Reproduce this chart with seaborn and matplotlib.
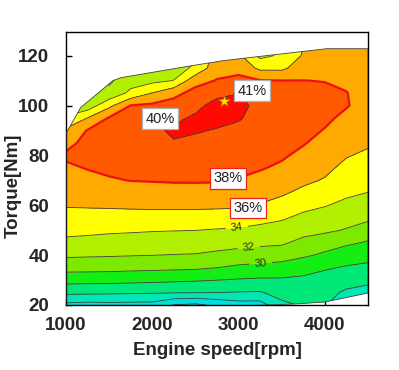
import numpy as np
import matplotlib.pyplot as plt
import seaborn as sns
from matplotlib.patches import Polygon
from matplotlib import font_manager

# grid: speed columns [rpm] x torque rows [Nm], efficiency [%]
speed = [1000, 1250, 1500, 1750, 2000, 2250, 2500, 2750, 3000, 3250, 3500, 3750, 4000, 4250, 4500]
torque = [20, 25, 30, 35, 40, 45, 50, 55, 60, 65, 70, 75, 80, 85, 90, 95, 100, 105, 110, 115, 120, 125]

# one list per speed column, torque 20 -> 125
efficiency = [
    [23.5, 26.45, 28.73, 30.73, 32.3, 33.55, 34.53, 35.37, 36.13, 36.65, 37.17, 37.69, 38.3, 37.4, 36.4, 34.2, 33.0, 32.5, 32.5, 33.0, 33.0, 33.0],
    [23.3, 26.39, 28.68, 30.69, 32.23, 33.4, 34.44, 35.35, 36.18, 36.83, 37.48, 38.09, 38.53, 38.6, 38.1, 36.05, 32.8, 32.5, 32.5, 33.0, 33.0, 33.0],
    [23.4, 26.33, 28.64, 30.65, 32.17, 33.25, 34.3, 35.3, 36.24, 37.04, 37.84, 38.34, 38.77, 39.2, 38.7, 38.16, 35.5, 32.5, 31.7, 32.5, 32.5, 32.5],
    [23.35, 26.25, 28.54, 30.55, 32.09, 33.15, 34.22, 35.3, 36.31, 37.2, 38.04, 38.45, 38.85, 39.26, 39.26, 38.65, 38.05, 34.5, 33.1, 33.1, 33.1, 33.1],
    [23.3, 26.18, 28.44, 30.46, 32.02, 33.05, 34.12, 35.29, 36.37, 37.3, 38.09, 38.48, 38.87, 39.26, 39.65, 39.26, 38.36, 36.05, 33.5, 33.1, 33.1, 33.1],
    [21.9, 26.13, 28.31, 30.39, 31.94, 33.02, 34.06, 35.27, 36.38, 37.32, 38.16, 38.74, 39.31, 39.89, 40.25, 39.61, 38.74, 37.47, 34.05, 33.1, 33.1, 33.1],
    [21.6, 26.08, 28.18, 30.31, 31.88, 32.96, 34.02, 35.25, 36.38, 37.35, 38.16, 38.64, 39.13, 39.61, 40.15, 40.3, 39.48, 38.61, 37.33, 34.4, 33.5, 33.5],
    [22.4, 26.02, 28.02, 30.02, 31.59, 32.8, 33.87, 35.16, 36.35, 37.33, 38.14, 38.58, 39.02, 39.46, 39.89, 40.5, 40.7, 39.46, 38.1, 37.3, 37.05, 37.05],
    [23.1, 25.9, 27.85, 29.64, 31.29, 32.62, 33.73, 35.06, 36.28, 37.14, 37.9, 38.42, 38.83, 39.25, 39.67, 40.12, 40.7, 39.95, 38.57, 37.3, 36.4, 36.4],
    [23.1, 25.85, 27.72, 29.45, 31.06, 32.42, 33.47, 34.63, 35.88, 36.72, 37.52, 38.13, 38.47, 38.8, 39.13, 39.47, 39.25, 38.67, 38.09, 35.6, 33.5, 33.5],
    [25.6, 26.65, 27.74, 29.27, 30.82, 32.3, 33.2, 34.23, 35.36, 36.24, 37.01, 37.72, 38.22, 38.58, 38.94, 39.3, 38.87, 38.43, 38.02, 35.6, 34.3, 34.3],
    [26.2, 26.9, 27.6, 28.77, 30.29, 31.43, 32.7, 33.57, 34.53, 35.58, 36.37, 36.98, 37.6, 38.12, 38.45, 38.77, 38.69, 38.39, 38.02, 37.05, 36.2, 35.9],
    [26.1, 26.6, 27.47, 28.15, 29.69, 30.85, 32.36, 33.3, 34.09, 35.08, 35.86, 36.42, 36.91, 37.41, 37.92, 38.3, 38.6, 38.35, 37.95, 37.5, 37.1, 37.05],
    [25.1, 25.7, 26.78, 27.89, 28.63, 30.43, 31.86, 32.76, 33.6, 34.3, 34.92, 35.54, 36.12, 36.63, 37.14, 37.65, 38.1, 38.05, 37.7, 37.4, 37.1, 37.05],
    [24.5, 25.3, 26.44, 27.56, 28.67, 29.78, 31.14, 32.36, 33.18, 33.97, 34.55, 35.11, 35.68, 36.25, 36.67, 37.08, 37.4, 37.3, 37.2, 37.05, 36.8, 36.8],
]

# operating range of the map
max_speed = [1000, 1170, 1545, 1640, 2390, 2820, 4020, 4500]
max_torque = [88.8, 99.2, 110, 111.2, 115.6, 118, 122.8, 122.8]
min_speed = [1000, 3650, 4000, 4500]
min_torque = [17, 20.4, 21.2, 24.8]

levels = [20, 22, 24, 26, 28, 30, 32, 34, 36, 38, 40, 42]
band_colors = ['#00c8ff', '#00dede', '#00e6b8', '#00e878', '#14ee14', '#7de800',
               '#b0f000', '#ffff00', '#ffaa00', '#ff5a00', '#ff0a00']

box_text = ['41%', '40%', '38%', '36%']
box_speed = [3155, 2089, 2877, 3109]
box_torque = [106, 94.8, 70.8, 58.8]
box_edge = ['#b0b0b0', '#b0b0b0', '#ee2020', '#ee2020']

best_speed = [2830]
best_torque = [102]

sns.set_theme(style='ticks')
installed = {f.name for f in font_manager.fontManager.ttflist}
plt.rcParams['font.family'] = ['Liberation Sans', 'DejaVu Sans']
narrow = 'Liberation Sans Narrow' if 'Liberation Sans Narrow' in installed else 'Liberation Sans'

fig = plt.figure(figsize=(3.99, 3.70), dpi=100)
ax = fig.add_axes([0.1654, 0.1757, 0.7569, 0.7378])

X, Y = np.meshgrid(speed, torque)
Z = np.array(efficiency).T

cf = ax.contourf(X, Y, Z, levels=levels, colors=band_colors)
thin = ax.contour(X, Y, Z, levels=[22, 24, 26, 28, 36, 40],
                  colors='#404040', linewidths=0.6)
labeled = ax.contour(X, Y, Z, levels=[30, 32, 34],
                     colors='#404040', linewidths=0.6)
red = ax.contour(X, Y, Z, levels=[38], colors='#ee1010', linewidths=1.6)

outline = list(zip(max_speed, max_torque)) + list(zip(min_speed[::-1], min_torque[::-1]))
region = Polygon(outline, closed=True, transform=ax.transData,
                 facecolor='none', edgecolor='#404040', lw=0.6, zorder=3)
ax.add_patch(region)

lbls = ax.clabel(labeled, inline=True, fmt='%d', fontsize=8, colors='#333333',
                 manual=[(2980, 51), (3120, 42.4), (3260, 36)])
for t in lbls:
    t.set_family(narrow)

for c in (cf, thin, labeled, red):
    c.set_clip_path(region)

for s, x, y, ec in zip(box_text, box_speed, box_torque, box_edge):
    ax.text(x, y, s, ha='center', va='center', fontsize=10.5, family=narrow,
            color='#222222', zorder=6,
            bbox=dict(boxstyle='square,pad=0.22', fc='white', ec=ec, lw=0.9))

sns.scatterplot(x=best_speed, y=best_torque, marker='*', s=80, color='#ffee00',
                edgecolor='#c06000', linewidth=0.6, ax=ax, zorder=7, legend=False)

ax.set_xlim(1000, 4500)
ax.set_ylim(20, 129.5)
ax.set_xticks([1000, 2000, 3000, 4000])
ax.set_yticks([20, 40, 60, 80, 100, 120])
ax.tick_params(direction='in', length=4, width=1, color='black', labelsize=13.5)
ax.tick_params(axis='x', pad=9)
ax.tick_params(axis='y', pad=12)
for lab in ax.get_xticklabels() + ax.get_yticklabels():
    lab.set_fontweight('bold')
for sp in ax.spines.values():
    sp.set_color('black')
    sp.set_linewidth(1)

ax.set_xlabel('Engine speed[rpm]', fontsize=13.5, fontweight='bold')
ax.set_ylabel('Torque[Nm]', fontsize=13.5, fontweight='bold')
ax.xaxis.set_label_coords(0.5, -0.135)
ax.yaxis.set_label_coords(-0.148, 0.436)

fig.savefig('out.png', dpi=100)
